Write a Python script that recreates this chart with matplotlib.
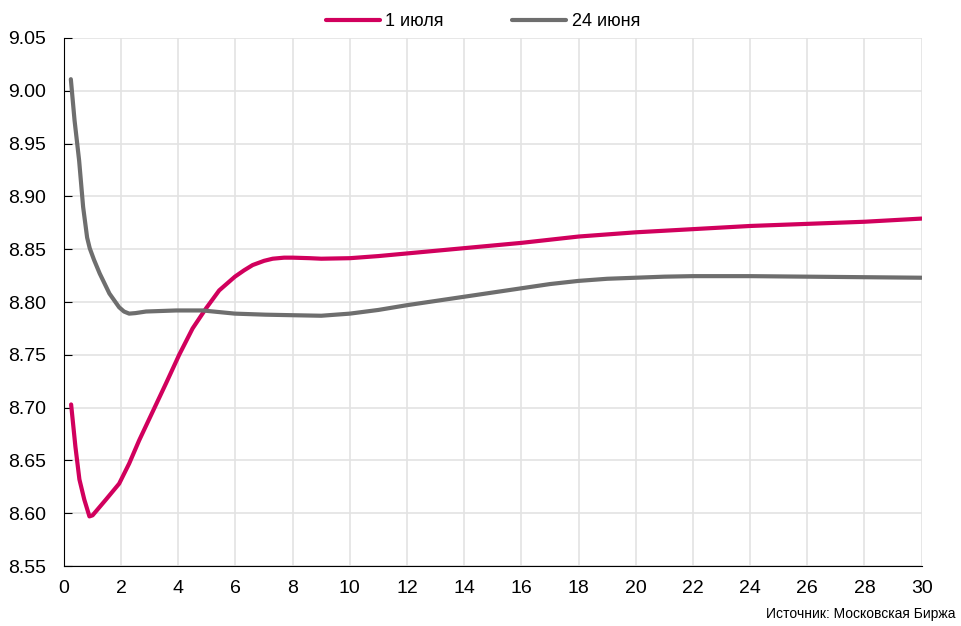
import matplotlib
matplotlib.use("Agg")
import matplotlib.pyplot as plt

plt.rcParams['font.family'] = ['Liberation Sans Narrow', 'Liberation Sans', 'DejaVu Sans']

# срок, лет
x_jul1 = [0.25, 0.40, 0.54, 0.71, 0.89, 1.0, 1.47, 1.93, 2.28, 2.63, 3.10, 3.57,
          4.03, 4.50, 4.97, 5.43, 5.98, 6.30, 6.60, 7.00, 7.30, 7.70, 8.0, 8.6, 9.0,
          10.0, 11.0, 12.0, 13.0, 14.0, 15.0, 16.0, 17.0, 18.0, 19.0, 20.0, 21.0,
          22.0, 24.0, 26.0, 28.0, 30.0]
y_jul1 = [8.703, 8.663, 8.632, 8.613, 8.597, 8.598, 8.613, 8.628, 8.647, 8.669,
          8.696, 8.723, 8.750, 8.775, 8.794, 8.811, 8.824, 8.830, 8.835, 8.839,
          8.841, 8.842, 8.842, 8.8415, 8.841, 8.8415, 8.8435, 8.846, 8.8485, 8.851,
          8.8535, 8.856, 8.859, 8.862, 8.864, 8.866, 8.8675, 8.869, 8.872, 8.874,
          8.876, 8.879]

x_jun24 = [0.24, 0.37, 0.53, 0.67, 0.81, 0.90, 1.05, 1.25, 1.59, 1.93, 2.10, 2.28,
           2.50, 2.87, 3.92, 4.85, 5.98, 7.06, 8.0, 9.0, 10.0, 11.0, 12.0, 13.0,
           14.0, 15.0, 16.0, 17.0, 18.0, 19.0, 20.0, 21.0, 22.0, 24.0, 26.0, 28.0,
           30.0]
y_jun24 = [9.011, 8.972, 8.934, 8.890, 8.861, 8.851, 8.840, 8.827, 8.808, 8.795,
           8.791, 8.789, 8.7895, 8.791, 8.792, 8.792, 8.789, 8.788, 8.7875, 8.787,
           8.789, 8.7925, 8.797, 8.801, 8.805, 8.809, 8.813, 8.817, 8.820, 8.822,
           8.823, 8.824, 8.8245, 8.8245, 8.824, 8.8235, 8.823]

pink = '#d1005d'
grey = '#6e6e6e'

fig = plt.figure(figsize=(9.62, 6.26), dpi=100)
ax = fig.add_axes([0.0665, 0.0958, 0.8915, 0.8435])

l1, = ax.plot(x_jul1, y_jul1, color=pink, lw=3.0, solid_capstyle='round',
              solid_joinstyle='round', label='1 июля')
l2, = ax.plot(x_jun24, y_jun24, color=grey, lw=3.0, solid_capstyle='round',
              solid_joinstyle='round', label='24 июня')

ax.set_xlim(0, 30)
ax.set_ylim(8.55, 9.05)
ax.set_xticks(range(0, 31, 2))
ax.set_yticks([8.55 + 0.05 * i for i in range(11)])
ax.set_yticklabels(['%.2f' % (8.55 + 0.05 * i) for i in range(11)])
ax.grid(True, color='#e3e3e3', lw=1.2)
ax.set_axisbelow(True)
for s in ['top', 'right']:
    ax.spines[s].set_visible(False)
ax.spines['left'].set_color('black')
ax.spines['bottom'].set_color('black')
ax.tick_params(axis='y', direction='in', length=6, labelsize=14, pad=13)
ax.tick_params(axis='x', length=0, labelsize=14, pad=10)

fig.legend(handles=[l1, l2], loc='upper center', bbox_to_anchor=(0.502, 1.005), ncol=2,
           frameon=False, fontsize=13, handlelength=3.0, columnspacing=3.8,
           handletextpad=0.3)

fig.text(0.993, 0.008, 'Источник: Московская Биржа', ha='right', va='bottom', fontsize=10)

fig.savefig('out.png', dpi=100)
